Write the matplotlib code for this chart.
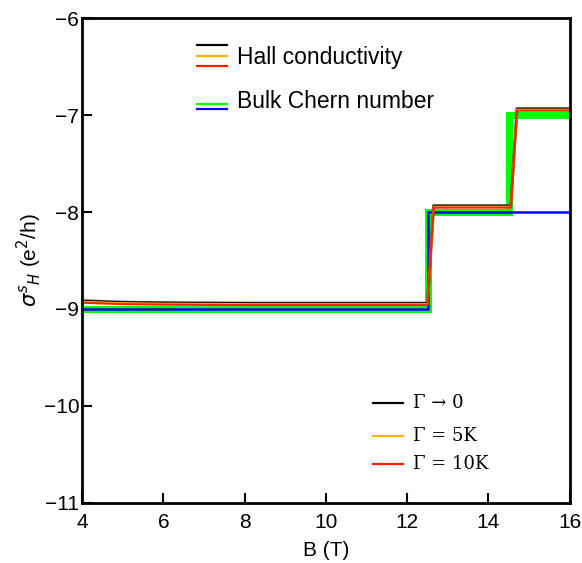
import matplotlib.pyplot as plt

# Hall conductivity curves
b_hall = [4, 5, 6, 8, 10, 12.5, 12.65, 14.55, 14.7, 16]
hall_g0 = [-8.915, -8.93, -8.935, -8.94, -8.94, -8.94, -7.935, -7.935, -6.935, -6.935]
hall_5k = [-8.925, -8.94, -8.945, -8.95, -8.95, -8.95, -7.945, -7.945, -6.945, -6.945]
hall_10k = [-8.935, -8.95, -8.955, -8.96, -8.96, -8.96, -7.955, -7.955, -6.955, -6.955]

# bulk Chern number curves
b_chern = [4, 12.5, 12.5, 14.5, 14.5, 16]
chern_green = [-9, -9, -8, -8, -7, -7]
b_blue = [4, 12.5, 12.5, 16]
chern_blue = [-9, -9, -8, -8]

gamma_labels = ['\u0393 \u2192 0', '\u0393 = 5K', '\u0393 = 10K']

plt.rcParams['font.family'] = ['Liberation Sans', 'DejaVu Sans']

fig = plt.figure(figsize=(5.82, 5.63), dpi=100)
ax = fig.add_axes([0.141, 0.1066, 0.838, 0.8614])

ax.plot(b_chern, chern_green, color='#00ff00', lw=5, solid_joinstyle='miter')
ax.plot(b_blue, chern_blue, color='#0000ff', lw=1.8)
ax.plot(b_hall, hall_g0, color='#555555', lw=2.2)
ax.plot(b_hall, hall_g0, color='black', lw=1.2)
ax.plot(b_hall, hall_5k, color='#ffb000', lw=1.5)
ax.plot(b_hall, hall_10k, color='#ff2000', lw=1.5)

ax.set_xlim(4, 16)
ax.set_ylim(-11, -6)
ax.set_xticks([4, 6, 8, 10, 12, 14, 16])
ax.set_yticks([-11, -10, -9, -8, -7, -6])
ax.tick_params(direction='in', length=7, width=1.5, labelsize=15)
ax.tick_params(axis='x', pad=7)
ax.tick_params(axis='y', pad=2)
for s in ax.spines.values():
    s.set_linewidth(2)

ax.set_xlabel('B (T)', fontsize=15, labelpad=7)
ax.set_ylabel(r'$\sigma^s{}_H$ (e$^2$/h)', fontsize=15, labelpad=0)

# upper legend: curve groups
lx = [6.83, 7.57]
ax.plot(lx, [-6.28, -6.28], color='black', lw=1.6)
ax.plot(lx, [-6.39, -6.39], color='#ffb000', lw=1.6)
ax.plot(lx, [-6.49, -6.49], color='#ff2000', lw=1.6)
ax.text(7.81, -6.41, 'Hall conductivity', fontsize=16.5, va='center')
ax.plot(lx, [-6.89, -6.89], color='#00ff00', lw=1.6)
ax.plot(lx, [-6.94, -6.94], color='#0000ff', lw=1.6)
ax.text(7.81, -6.86, 'Bulk Chern number', fontsize=16.5, va='center')

# lower legend: broadening values
gx = [11.16, 11.9]
gy = [-9.97, -10.31, -10.60]
gc = ['black', '#ffb000', '#ff2000']
for y, c, lab in zip(gy, gc, gamma_labels):
    ax.plot(gx, [y, y], color=c, lw=1.6)
    ax.text(12.14, y, lab, fontsize=13, va='center', family=['DejaVu Serif'])

fig.savefig('out.png', dpi=100)
